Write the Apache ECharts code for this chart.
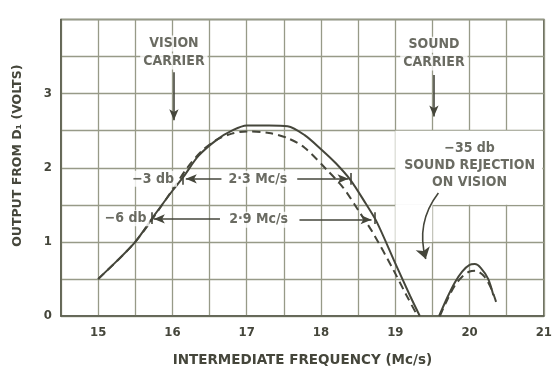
<!DOCTYPE html>
<html>
<head>
<meta charset="utf-8">
<script src="https://cdn.jsdelivr.net/npm/echarts@6/dist/echarts.min.js"></script>
<style>
  html, body { margin: 0; padding: 0; background: #fff; }
  #chart { width: 555px; height: 372px; }
</style>
</head>
<body>
<div id="chart"></div>
<script>
  // response curve, solid = one alignment, dashed = the other
  const solidX = [15.0, 15.25, 15.5, 15.75, 16.0, 16.15, 16.35, 16.6, 16.8, 17.0, 17.3, 17.55, 17.78, 18.0, 18.2, 18.4, 18.6, 18.75, 19.0, 19.2, 19.33];
  const solidY = [0.5, 0.74, 1.0, 1.35, 1.69, 1.88, 2.16, 2.38, 2.5, 2.57, 2.57, 2.56, 2.44, 2.25, 2.06, 1.83, 1.52, 1.27, 0.71, 0.27, 0.0];
  const dashX = [15.0, 15.5, 16.0, 16.2, 16.4, 16.6, 16.8, 17.0, 17.3, 17.55, 17.78, 18.08, 18.3, 18.5, 18.7, 18.97, 19.15, 19.3];
  const dashY = [0.5, 1.0, 1.7, 2.0, 2.23, 2.38, 2.46, 2.49, 2.47, 2.4, 2.27, 1.97, 1.73, 1.43, 1.12, 0.63, 0.28, 0.0];

  // sound rejection hump
  const solidX2 = [19.59, 19.7, 19.8, 19.9, 20.0, 20.07, 20.15, 20.25, 20.32];
  const solidY2 = [0.0, 0.25, 0.45, 0.6, 0.69, 0.7, 0.65, 0.5, 0.28];
  const dashX2 = [19.6, 19.7, 19.8, 19.9, 20.0, 20.08, 20.2, 20.3, 20.36];
  const dashY2 = [0.0, 0.22, 0.41, 0.53, 0.6, 0.61, 0.53, 0.35, 0.18];

  const xTicks = [15, 16, 17, 18, 19, 20, 21];
  const yTicks = [0, 1, 2, 3];

  // annotation texts [x, y, text]
  const notes = [
    [16.02, 3.675, 'VISION'],
    [16.02, 3.435, 'CARRIER'],
    [19.52, 3.66, 'SOUND'],
    [19.52, 3.42, 'CARRIER'],
    [20.0, 2.26, '\u221235 db'],
    [20.0, 2.03, 'SOUND REJECTION'],
    [20.0, 1.80, 'ON VISION'],
    [15.74, 1.85, '\u22123 db'],
    [17.15, 1.85, '2\u00b73 Mc/s'],
    [15.37, 1.32, '\u22126 db'],
    [17.16, 1.30, '2\u00b79 Mc/s']
  ];

  // arrows [x1, y1, x2, y2]
  const arrows = [
    [16.02, 3.29, 16.02, 2.64],
    [19.52, 3.25, 19.52, 2.69],
    [16.66, 1.85, 16.18, 1.85],
    [17.68, 1.85, 18.37, 1.85],
    [16.64, 1.31, 15.75, 1.31],
    [17.71, 1.30, 18.68, 1.30]
  ];
  // little marks at the -3 / -6 db points
  const marks = [
    [16.14, 1.77, 16.14, 1.93],
    [15.72, 1.24, 15.72, 1.40],
    [18.40, 1.77, 18.40, 1.93],
    [18.72, 1.24, 18.72, 1.40]
  ];
  const curvedArrow = [19.58, 1.66, 19.41, 0.77];

  const ink = '#45463b';
  const gridCol = '#979a88';
  const font = '"DejaVu Sans Condensed", "DejaVu Sans", sans-serif';
  const titleFont = '"DejaVu Sans", sans-serif';

  const pairs = (xs, ys) => xs.map((x, i) => [x, ys[i]]);

  const chart = echarts.init(document.getElementById('chart'));

  const arrowLines = arrows.map(a => [
    { coord: [a[0], a[1]], symbol: 'none' },
    { coord: [a[2], a[3]], symbol: 'arrow', symbolSize: [7, 11] }
  ]);
  const markLines = marks.map(a => [
    { coord: [a[0], a[1]], symbol: 'none' },
    { coord: [a[2], a[3]], symbol: 'none' }
  ]);

  const lineOpts = (data, dashed) => ({
    type: 'line',
    data: data,
    smooth: 0.3,
    showSymbol: false,
    silent: true,
    z: 3,
    lineStyle: { color: ink, width: 2, type: dashed ? [8, 5] : 'solid' }
  });

  chart.setOption({
    backgroundColor: '#fff',
    animation: false,
    grid: {
      left: 61, right: 7, top: 19.5, bottom: 52,
      show: true, borderColor: '#5a5c4c', borderWidth: 1.5
    },
    xAxis: {
      type: 'value',
      min: 14.5, max: 21, interval: 0.5,
      name: 'INTERMEDIATE FREQUENCY (Mc/s)',
      nameLocation: 'middle',
      nameGap: 37,
      nameTextStyle: { color: ink, fontFamily: titleFont, fontSize: 13.5, fontWeight: 'bold' },
      axisLine: { lineStyle: { color: '#5a5c4c', width: 1.5 } },
      axisTick: { show: false },
      splitLine: { show: true, lineStyle: { color: gridCol, width: 1.3 } },
      axisLabel: {
        color: ink, fontFamily: font, fontSize: 13, fontWeight: 'bold', margin: 10,
        formatter: v => xTicks.indexOf(v) >= 0 ? String(v) : ''
      }
    },
    yAxis: {
      type: 'value',
      min: 0, max: 4, interval: 0.5,
      name: 'OUTPUT FROM D\u2081 (VOLTS)',
      nameLocation: 'middle',
      nameGap: 37,
      nameRotate: 90,
      nameTextStyle: { color: ink, fontFamily: titleFont, fontSize: 12.5, fontWeight: 'bold', padding: [0, 0, 0, 24] },
      axisLine: { show: true, lineStyle: { color: '#5a5c4c', width: 1.5 } },
      axisTick: { show: false },
      splitLine: { show: true, lineStyle: { color: gridCol, width: 1.3 } },
      axisLabel: {
        color: ink, fontFamily: font, fontSize: 13, fontWeight: 'bold', margin: 9,
        formatter: v => yTicks.indexOf(v) >= 0 ? String(v) : ''
      }
    },
    series: [
      Object.assign(lineOpts(pairs(solidX, solidY), false), {
        // white panel behind the rejection note
        markArea: {
          silent: true,
          itemStyle: { color: '#fff' },
          data: [
            [{ coord: [19.0, 1.5] }, { coord: [20.98, 2.5] }],
            [{ coord: [19.0, 1.0] }, { coord: [19.5, 1.5] }]
          ]
        }
      }),
      lineOpts(pairs(dashX, dashY), true),
      lineOpts(pairs(solidX2, solidY2), false),
      lineOpts(pairs(dashX2, dashY2), true),
      {
        type: 'scatter',
        z: 5,
        silent: true,
        symbolSize: 1,
        itemStyle: { color: 'rgba(0,0,0,0)' },
        data: notes.map(n => ({ value: [n[0], n[1]], name: n[2] })),
        label: {
          show: true, position: 'inside', formatter: '{b}',
          color: ink, fontFamily: font, fontSize: 14, fontWeight: 'bold',
          backgroundColor: '#fff', padding: [1, 3]
        }
      },
      {
        type: 'line',
        data: [],
        z: 4,
        markLine: {
          silent: true,
          animation: false,
          label: { show: false },
          lineStyle: { color: ink, width: 1.6, type: 'solid' },
          data: arrowLines.concat(markLines)
        }
      },
      {
        // curved pointer for the rejection note
        type: 'lines',
        coordinateSystem: 'cartesian2d',
        z: 4,
        silent: true,
        symbol: ['none', 'arrow'],
        symbolSize: [7, 11],
        lineStyle: { color: ink, width: 1.6, opacity: 1, curveness: -0.25 },
        data: [{ coords: [[curvedArrow[0], curvedArrow[1]], [curvedArrow[2], curvedArrow[3]]] }]
      }
    ]
  });
</script>
</body>
</html>
